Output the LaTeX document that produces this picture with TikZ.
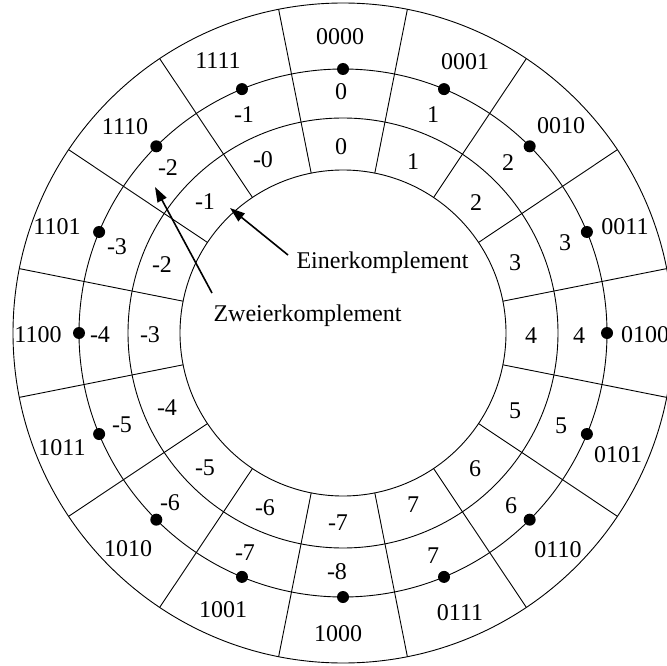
\documentclass[tikz,border=0pt]{standalone}
\usepackage{fontspec}
\setmainfont{Liberation Serif}
\usetikzlibrary{arrows.meta,calc}
\begin{document}
\begin{tikzpicture}[x=1pt,y=-1pt,
  ring/.style={line width=0.9pt},
  spoke/.style={line width=0.9pt},
  dotmark/.style={fill=black},
  lbl/.style={inner sep=0pt,font=\fontsize{24}{28}\selectfont},
  wordlbl/.style={inner sep=0pt,anchor=base,font=\fontsize{24}{28}\selectfont},
  pointer/.style={line width=1.6pt,-{Triangle[length=15pt,width=10pt]}}]
\useasboundingbox (0,0) rectangle (667,666);
\clip (0,0) rectangle (667,666);
\coordinate (C) at (343,333);
% concentric rings
\foreach \r in {163,215,264,330}
  \draw[ring] (C) circle[radius=\r];
% sector borders
\foreach \k in {0,...,15}
  \draw[spoke] ($(C)+(11.25+22.5*\k:163)$) -- ($(C)+(11.25+22.5*\k:330)$);
% code points on the third ring
\foreach \k in {0,...,15}
  \fill[dotmark] ($(C)+(22.5*\k:264)$) circle[radius=6];
% four-bit codes
\foreach \t/\x/\y in {0000/340/37,0001/465/62,0010/561/126,0011/625/227,
  0100/645/335,0101/618/455,0110/558/550,0111/460/613,1000/338/634,
  1001/223/610,1010/128/549,1011/62/448,1100/38/335,1101/57/227,
  1110/125/127,1111/218/61}
  \node[lbl] (bin\t) at (\x,\y) {\t};
% two's complement values
\foreach \t/\x/\y/\n in {0/341/92/a,1/433/115/b,2/508/163/c,3/565/243/d,
  4/579/336/e,5/561/426/f,6/511/506/g,7/433/556/h,-8/337/572/i,
  -7/245/553/j,-6/170/503/k,-5/122/425/l,-4/100/335/m,-3/117/247/n,
  -2/168/168/o,-1/244/115/p}
  \node[lbl] (zk\n) at (\x,\y) {\t};
% one's complement values
\foreach \t/\x/\y/\n in {0/341/147/a,1/413/162/b,2/476/203/c,3/515/263/d,
  4/531/336/e,5/515/411/f,6/475/469/g,7/413/505/h,-7/338/523/i,
  -6/265/508/j,-5/205/468/k,-4/167/408/l,-3/150/335/m,-2/162/265/n,
  -1/205/202/o,-0/263/160/p}
  \node[lbl] (ek\n) at (\x,\y) {\t};
% captions and pointers
\node[wordlbl] (einer) at (382.5,268) {Einerkomplement};
\node[wordlbl] (zweier) at (307.5,321) {Zweierkomplement};
\coordinate (einerfrom) at (288,255);
\coordinate (einerto) at (230,208);
\coordinate (zweierfrom) at (212,293);
\coordinate (zweierto) at (155,187);
\draw[pointer] (einerfrom) -- (einerto);
\draw[pointer] (zweierfrom) -- (zweierto);
\end{tikzpicture}
\end{document}
